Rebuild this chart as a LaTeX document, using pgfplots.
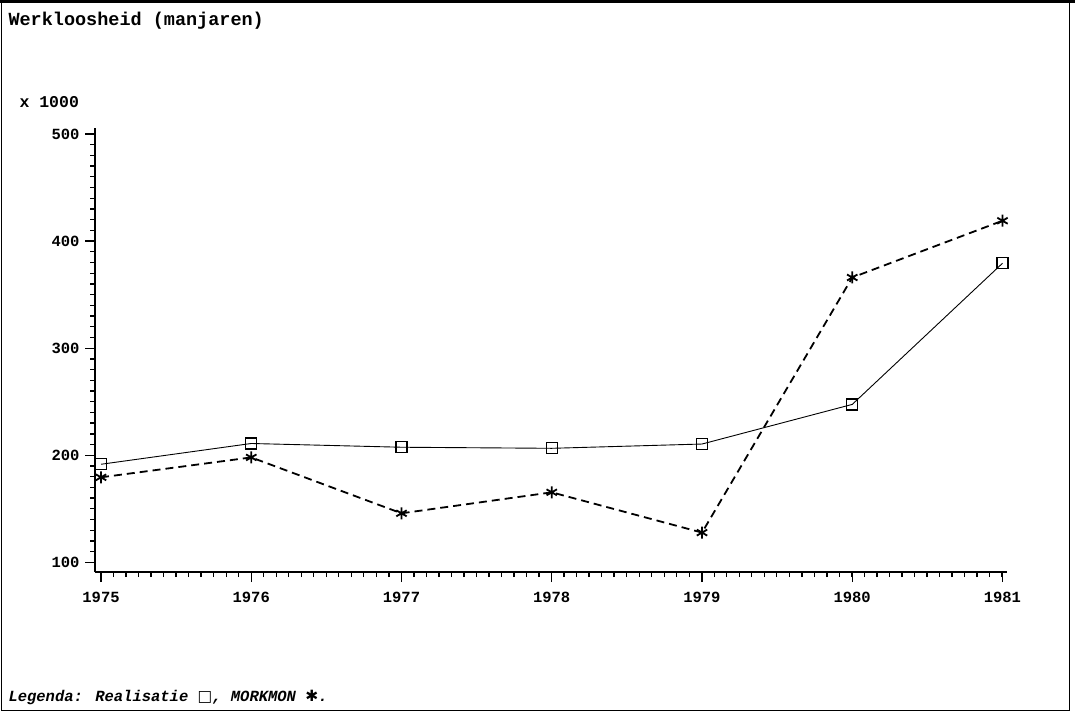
\documentclass[border=0pt]{standalone}
\usepackage{pgfplots}
\pgfplotsset{compat=1.18}
\usepackage{fontspec}
\setmainfont{Liberation Mono}
\newfontfamily\sym{DejaVu Sans}
\begin{document}
\begin{tikzpicture}
\useasboundingbox (0pt,0pt) rectangle (1075pt,712pt);
\draw[line width=1pt] (1pt,2pt) rectangle (1069pt,710pt);
\draw[line width=3pt] (0pt,710.5pt) -- (1075pt,710.5pt);
\begin{axis}[
  at={(95pt,140pt)}, anchor=south west,
  scale only axis, width=912pt, height=444pt,
  xmin=1974.96, xmax=1981.03,
  ymin=91, ymax=505.6,
  axis lines=left,
  axis line style={-, line width=1.8pt},
  xtick={1975,...,1981},
  minor xtick={1975,1975.08333,...,1981},
  ytick={100,200,300,400,500},
  minor ytick={90,100,...,500},
  tick align=outside,
  major tick length=10pt,
  minor tick length=5pt,
  tick style={line width=1.3pt, black},
  minor tick style={line width=1.3pt, black},
  /pgf/number format/1000 sep={},
  /pgf/number format/assume math mode=true,
  tick label style={font=\bfseries\fontsize{15.5}{15.5}\selectfont},
  xticklabel style={yshift=-7pt},
  yticklabel style={xshift=-2pt},
  clip=false,
]
\addplot[black, line width=0.9pt, mark=square, mark size=5.5pt,
  mark options={solid, line width=1.3pt}]
  coordinates {(1975,191.6) (1976,211) (1977,207.5) (1978,206.5) (1979,210.5) (1980,247.5) (1981,379.3)};
\addplot[black, line width=1.8pt, dash pattern=on 8pt off 5pt, mark=asterisk, mark size=6pt,
  mark options={solid, line width=1.8pt}]
  coordinates {(1975,179.4) (1976,198) (1977,145.8) (1978,165.4) (1979,127.8) (1980,366) (1981,419)};
\end{axis}
\node[anchor=west, font=\bfseries\fontsize{18.5}{18.5}\selectfont] at (5pt,691pt) {Werkloosheid (manjaren)};
\node[anchor=west, font=\bfseries\fontsize{16.5}{16.5}\selectfont] at (16pt,610pt) {x 1000};
\node[anchor=west, font=\bfseries\itshape\fontsize{15.5}{15.5}\selectfont] at (5pt,15pt)
  {Legenda: Realisatie {\sym □}, MORKMON {\sym ✱}.};
\end{tikzpicture}
\end{document}
